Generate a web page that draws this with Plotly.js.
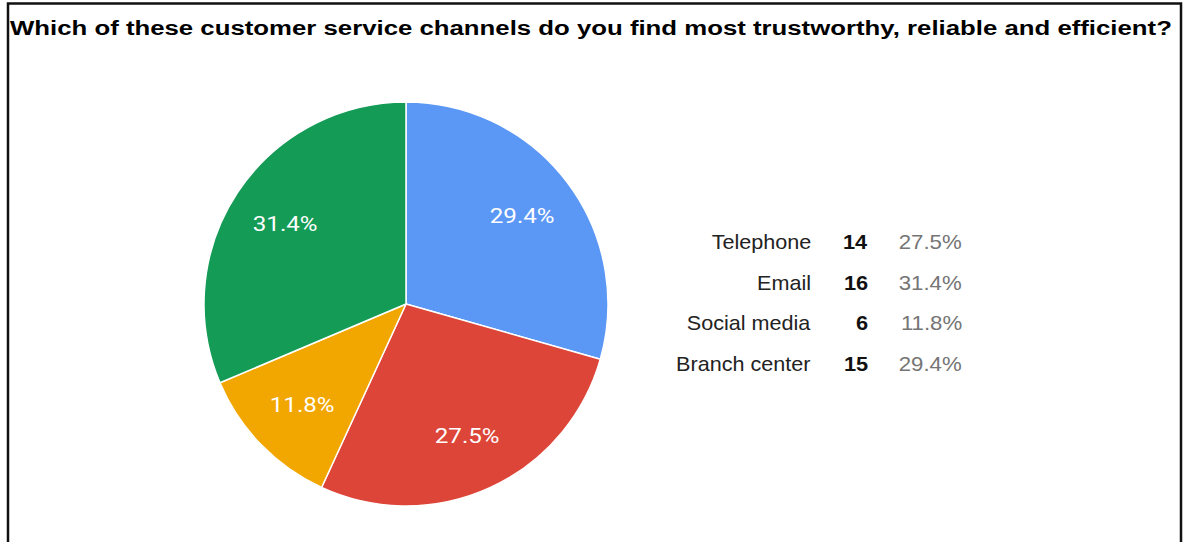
<!DOCTYPE html>
<html>
<head>
<meta charset="utf-8">
<script src="https://cdn.plot.ly/plotly-3.0.1.min.js"></script>
<style>
  html, body { margin: 0; padding: 0; background: #ffffff; }
  #chart { width: 1190px; height: 542px; }
</style>
</head>
<body>
<div id="chart"></div>
<script>
// Survey responses, listed in legend order
const channels = ['Telephone', 'Email', 'Social media', 'Branch center'];
const counts = [14, 16, 6, 15];
const channelColors = ['#dc4538', '#149b56', '#f2a600', '#5b97f5'];

// Order in which slices run clockwise from 12 o'clock
const sliceOrder = ['Branch center', 'Telephone', 'Social media', 'Email'];

const titleText = 'Which of these customer service channels do you find most trustworthy, reliable and efficient?';

const W = 1190, H = 542;
const total = counts.reduce((a, b) => a + b, 0);
const pct = v => (100 * v / total).toFixed(1) + '%';

// Pie geometry (pixels)
const cx = 406, cy = 304, R = 202;

const idx = sliceOrder.map(n => channels.indexOf(n));
const pieLabels = idx.map(i => channels[i]);
const pieValues = idx.map(i => counts[i]);
const pieColors = idx.map(i => channelColors[i]);

const trace = {
  type: 'pie',
  labels: pieLabels,
  values: pieValues,
  sort: false,
  direction: 'clockwise',
  rotation: 0,
  marker: { colors: pieColors, line: { color: '#ffffff', width: 1.5 } },
  textinfo: 'none',
  hoverinfo: 'label+value+percent',
  showlegend: false,
  domain: {
    x: [(cx - R) / W, (cx + R) / W],
    y: [(H - cy - R) / H, (H - cy + R) / H]
  }
};

const annotations = [];
const widen = [];   // horizontal font stretch per annotation

// Percentage labels placed along each slice's mid-angle
let acc = 0;
pieValues.forEach(v => {
  const mid = (acc + v / 2) / total * 2 * Math.PI;
  acc += v;
  const r = 0.72 * R;
  annotations.push({
    xref: 'paper', yref: 'paper',
    x: (cx + r * Math.sin(mid)) / W, y: 1 - (cy - r * Math.cos(mid)) / H,
    xanchor: 'center', yanchor: 'middle',
    text: pct(v), showarrow: false,
    font: { family: 'Roboto, Arial, sans-serif', size: 21, color: '#ffffff' }
  });
  widen.push(1.15);
});

// Legend table: label, count, share
const legendFont = 'Arial, "Liberation Sans", sans-serif';
const rowY0 = 242, rowStep = 40.7;
channels.forEach((name, i) => {
  const y = 1 - (rowY0 + i * rowStep) / H;
  const base = { xref: 'paper', yref: 'paper', y: y, yanchor: 'middle', xanchor: 'right', showarrow: false };
  annotations.push(Object.assign({}, base, {
    x: 813 / W, text: name,
    font: { family: legendFont, size: 20, color: '#222222' }
  }));
  widen.push(1.08);
  annotations.push(Object.assign({}, base, {
    x: 870 / W, text: '<b>' + counts[i] + '</b>',
    font: { family: legendFont, size: 20, color: '#111111' }
  }));
  widen.push(1.09);
  annotations.push(Object.assign({}, base, {
    x: 964 / W, text: pct(counts[i]),
    font: { family: legendFont, size: 20, color: '#757575' }
  }));
  widen.push(1.11);
});

const layout = {
  width: W, height: H,
  margin: { l: 0, r: 0, t: 0, b: 0 },
  paper_bgcolor: '#ffffff',
  title: {
    text: '<b>' + titleText + '</b>',
    x: 10 / W, xanchor: 'left', xref: 'paper',
    y: 1 - 27.5 / H, yanchor: 'middle', yref: 'paper',
    font: { family: 'Arial, "Liberation Sans", sans-serif', size: 21, color: '#000000' }
  },
  annotations: annotations,
  shapes: [{
    type: 'path', xref: 'paper', yref: 'paper',
    path: `M ${8 / W},0 L ${8 / W},${1 - 3.5 / H} L ${1181 / W},${1 - 3.5 / H} L ${1181 / W},0`,
    line: { color: '#111111', width: 2.5 }
  }]
};

// Widen a text element horizontally about its left, centre or right edge
function stretchText(el, s, anchor) {
  const b = el.getBBox();
  const ax = anchor === 'left' ? b.x : anchor === 'right' ? b.x + b.width : b.x + b.width / 2;
  const prev = el.getAttribute('transform') || '';
  el.setAttribute('transform',
    `${prev} translate(${ax},0) scale(${s},1) translate(${-ax},0)`.trim());
}

Plotly.newPlot('chart', [trace], layout, { staticPlot: true, displayModeBar: false }).then(() => {
  const title = document.querySelector('.gtitle');
  if (title) stretchText(title, 1.227, 'left');
  document.querySelectorAll('g.annotation').forEach(g => {
    const i = +g.getAttribute('data-index');
    const txt = g.querySelector('text.annotation-text');
    if (txt && widen[i]) stretchText(txt, widen[i], annotations[i].xanchor);
  });
});
</script>
</body>
</html>
